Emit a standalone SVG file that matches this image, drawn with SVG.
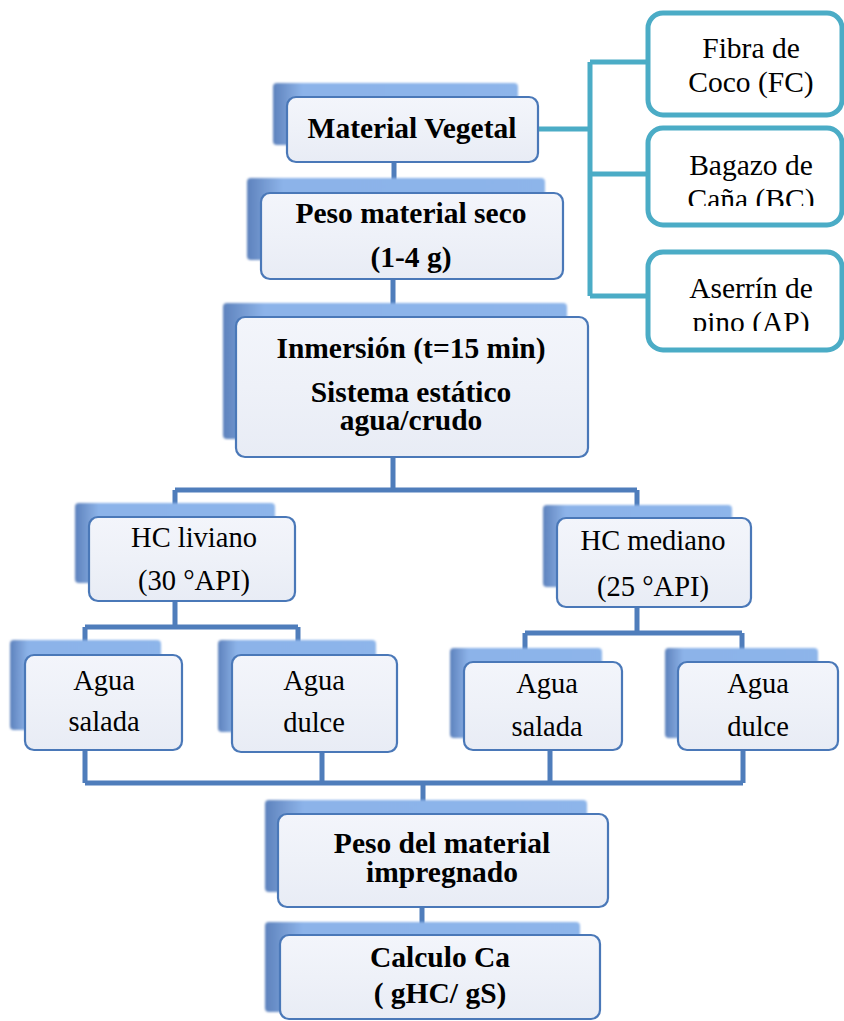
<svg xmlns="http://www.w3.org/2000/svg" width="844" height="1021" viewBox="0 0 844 1021">
<style>
.sh{fill:url(#shg);filter:url(#soft)}
.fr{fill:url(#frg);stroke:#4a78b8;stroke-width:2.2}
.tb{fill:#ffffff;stroke:#4bacc6;stroke-width:5}
text{font-family:"Times New Roman","Liberation Serif",Tinos,serif;font-size:28.5px;fill:#000;text-anchor:middle}
.b{font-weight:bold;font-size:29.5px}
.q{font-size:29.5px}
.cn{fill:none;stroke:#4f7dbb;stroke-width:5;stroke-linejoin:miter}
.ct{fill:none;stroke:#4bacc6;stroke-width:5;stroke-linejoin:miter}
</style>
<defs>
<linearGradient id="shg" x1="0" y1="0" x2="1" y2="0">
<stop offset="0" stop-color="#5d82bd"/>
<stop offset="0.07" stop-color="#7a9fd6"/>
<stop offset="0.12" stop-color="#8cb3e9"/>
<stop offset="1" stop-color="#8db5ea"/>
</linearGradient>
<linearGradient id="frg" x1="0" y1="0" x2="0" y2="1">
<stop offset="0" stop-color="#f3f5fb"/>
<stop offset="0.5" stop-color="#eef1f8"/>
<stop offset="1" stop-color="#e8ecf5"/>
</linearGradient>
<filter id="soft" x="-5%" y="-5%" width="110%" height="110%">
<feGaussianBlur stdDeviation="0.8"/>
</filter>
<clipPath id="clipBC"><rect x="640" y="120" width="204" height="86"/></clipPath>
<clipPath id="clipAP"><rect x="640" y="245" width="204" height="86"/></clipPath>
</defs>
<rect width="844" height="1021" fill="#ffffff"/>

<g id="connectors">
<path class="ct" d="M537 129 H590 M590 62 V296 M590 62 H648 M590 174 H648 M590 296 H648"/>
<path class="cn" d="M394 161 V193 M393 279 V318 M393 457 V490 M175 490 H637 M175 490 V517 M637 490 V518"/>
<path class="cn" d="M175 601 V627 M85 627 H298 M85 627 V655 M298 627 V655"/>
<path class="cn" d="M637 607 V633 M525 633 H742 M525 633 V662 M742 633 V662"/>
<path class="cn" d="M85 750 V783 M322 752 V783 M550 750 V783 M743 750 V783 M85 783 H743 M423 783 V814"/>
<path class="cn" d="M422 907 V935"/>
</g>

<g id="material-vegetal">
<rect class="sh" x="273" y="83" width="245" height="62" rx="4"/>
<rect class="fr" x="287" y="97" width="251" height="65" rx="9"/>
<text class="b" x="412" y="138">Material Vegetal</text>
</g>

<g id="peso-seco">
<rect class="sh" x="247" y="178" width="298" height="82" rx="4"/>
<rect class="fr" x="261" y="193" width="302" height="86" rx="9"/>
<text class="b" x="411" y="223">Peso material seco</text>
<text class="b" x="411" y="267">(1-4 g)</text>
</g>

<g id="inmersion">
<rect class="sh" x="223" y="303" width="344" height="136" rx="4"/>
<rect class="fr" x="236" y="317" width="352" height="140" rx="9"/>
<text class="b" x="411" y="358">Inmersión (t=15 min)</text>
<text class="b" x="411" y="402">Sistema estático</text>
<text class="b" x="411" y="430">agua/crudo</text>
</g>

<g id="fibra-coco">
<rect class="tb" x="648" y="13" width="194" height="102" rx="15"/>
<text class="q" x="751" y="58">Fibra de</text>
<text class="q" x="751" y="92">Coco (FC)</text>
</g>

<g id="bagazo-cana">
<rect class="tb" x="648" y="128" width="194" height="97" rx="15"/>
<g clip-path="url(#clipBC)">
<text class="q" x="751" y="175">Bagazo de</text>
<text class="q" x="751" y="209">Caña (BC)</text>
</g>
</g>

<g id="aserrin-pino">
<rect class="tb" x="648" y="252" width="194" height="98" rx="15"/>
<g clip-path="url(#clipAP)">
<text class="q" x="751" y="298">Aserrín de</text>
<text class="q" x="751" y="332">pino (AP)</text>
</g>
</g>

<g id="hc-liviano">
<rect class="sh" x="75" y="503" width="200" height="80" rx="4"/>
<rect class="fr" x="89" y="517" width="206" height="84" rx="9"/>
<text x="194" y="547">HC liviano</text>
<text x="194" y="590">(30 °API)</text>
</g>

<g id="hc-mediano">
<rect class="sh" x="543" y="505" width="189" height="82" rx="4"/>
<rect class="fr" x="557" y="518" width="194" height="89" rx="9"/>
<text x="653" y="550">HC mediano</text>
<text x="653" y="596">(25 °API)</text>
</g>

<g id="agua-salada-1">
<rect class="sh" x="10" y="640" width="151" height="90" rx="4"/>
<rect class="fr" x="25" y="655" width="157" height="95" rx="9"/>
<text x="104" y="690">Agua</text>
<text x="104" y="731">salada</text>
</g>

<g id="agua-dulce-1">
<rect class="sh" x="218" y="640" width="158" height="92" rx="4"/>
<rect class="fr" x="232" y="655" width="165" height="97" rx="9"/>
<text x="314" y="690">Agua</text>
<text x="314" y="732">dulce</text>
</g>

<g id="agua-salada-2">
<rect class="sh" x="450" y="648" width="152" height="90" rx="4"/>
<rect class="fr" x="464" y="662" width="158" height="88" rx="9"/>
<text x="547" y="693">Agua</text>
<text x="547" y="736">salada</text>
</g>

<g id="agua-dulce-2">
<rect class="sh" x="665" y="648" width="153" height="90" rx="4"/>
<rect class="fr" x="678" y="662" width="160" height="88" rx="9"/>
<text x="758" y="693">Agua</text>
<text x="758" y="736">dulce</text>
</g>

<g id="peso-impregnado">
<rect class="sh" x="265" y="800" width="322" height="92" rx="4"/>
<rect class="fr" x="278" y="814" width="330" height="93" rx="9"/>
<text class="b" x="442" y="853">Peso del material</text>
<text class="b" x="442" y="882">impregnado</text>
</g>

<g id="calculo-ca">
<rect class="sh" x="265" y="922" width="315" height="90" rx="4"/>
<rect class="fr" x="280" y="935" width="320" height="84" rx="9"/>
<text class="b" x="440" y="967">Calculo Ca</text>
<text class="b" x="440" y="1003">( gHC/ gS)</text>
</g>
</svg>
